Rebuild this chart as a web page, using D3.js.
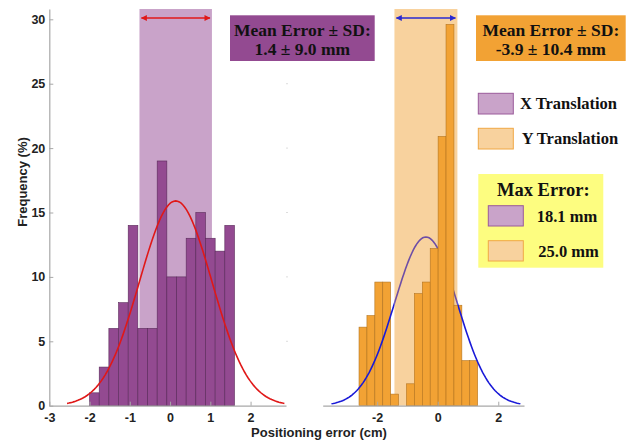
<!DOCTYPE html>
<html>
<head>
<meta charset="utf-8">
<script src="https://cdn.jsdelivr.net/npm/d3@7"></script>
<style>
  body { margin: 0; background: #fff; }
  svg { display: block; }
  .tick text { font-family: "Liberation Sans", Arial, sans-serif; font-weight: bold; font-size: 12.5px; fill: #222; }
  .ann { font-family: "Liberation Serif", "Times New Roman", serif; font-weight: bold; fill: #111; }
</style>
</head>
<body>
<script>
  // X translation histogram (percent per bin)
  const binStartX = -2
  const binWidthX = 0.24
  const freqX = [1, 3, 6, 8, 14, 6, 6, 19, 10, 10, 13, 15, 13, 12, 14]

  // Y translation histogram
  const binStartY = -2.6
  const binWidthY = 0.2613
  const freqY = [6.1, 7.0, 9.6, 9.6, 0.9, 0, 1.7, 8.7, 9.6, 12.2, 20.9, 29.6, 7.8, 3.5, 3.5]

  // normal fits (cm)
  const meanX = 0.14, sdX = 0.90, peakX = 15.9
  const meanY = -0.39, sdY = 1.04, peakY = 13.1

  const ticksLeftX = [-3, -2, -1, 0, 1, 2]
  const ticksRightX = [-2, 0, 2]
  const ticksY = [0, 5, 10, 15, 20, 25, 30]

  const W = 638, H = 441

  const purple = '#934a91'
  const purpleLight = '#c9a3c9'
  const orange = '#f2a234'
  const orangeLight = '#f8d29e'

  const svg = d3.select('body').append('svg').attr('width', W).attr('height', H)
  const defs = svg.append('defs')

  const y = d3.scaleLinear().domain([0, 30.8]).range([405.7, 9])
  const xL = d3.scaleLinear().domain([-3, 2.88]).range([49.3, 286])
  const xR = d3.scaleLinear().domain([-3.8, 2.85]).range([322.7, 524])

  function gauss(m, s, a) {
    const pts = []
    for (let i = 0; i <= 120; i++) {
      const v = m - 3 * s + (6 * s * i) / 120
      pts.push([v, a * Math.exp(-((v - m) ** 2) / (2 * s * s))])
    }
    return pts
  }

  // ---- left panel (X translation) ----
  svg.append('rect')
    .attr('x', xL(meanX - sdX)).attr('width', xL(meanX + sdX) - xL(meanX - sdX))
    .attr('y', y(30.8)).attr('height', y(0) - y(30.8))
    .attr('fill', purpleLight)

  svg.append('g').selectAll('rect').data(freqX).enter().append('rect')
    .attr('x', (d, i) => xL(binStartX + i * binWidthX))
    .attr('width', xL(binWidthX) - xL(0))
    .attr('y', (d) => y(d))
    .attr('height', (d) => y(0) - y(d))
    .attr('fill', purple)
    .attr('stroke', '#5a2a5a')
    .attr('stroke-width', 0.6)

  const lineL = d3.line().x((d) => xL(d[0])).y((d) => y(d[1]))
  svg.append('path').attr('d', lineL(gauss(meanX, sdX, peakX)))
    .attr('fill', 'none').attr('stroke', '#e01818').attr('stroke-width', 1.6)

  // ---- right panel (Y translation) ----
  const lineR = d3.line().x((d) => xR(d[0])).y((d) => y(d[1]))
  const bandL = xR(meanY - sdY), bandR = xR(meanY + sdY)

  svg.append('rect')
    .attr('x', bandL).attr('width', bandR - bandL)
    .attr('y', y(30.8)).attr('height', y(0) - y(30.8))
    .attr('fill', orangeLight)

  const inClip = defs.append('clipPath').attr('id', 'inBand')
  inClip.append('rect').attr('x', bandL).attr('y', 0).attr('width', bandR - bandL).attr('height', H)
  svg.append('path').attr('d', lineR(gauss(meanY, sdY, peakY)))
    .attr('clip-path', 'url(#inBand)')
    .attr('fill', 'none').attr('stroke', '#6e4ea6').attr('stroke-width', 1.6)

  svg.append('g').selectAll('rect').data(freqY).enter().append('rect')
    .attr('x', (d, i) => xR(binStartY + i * binWidthY))
    .attr('width', xR(binWidthY) - xR(0))
    .attr('y', (d) => y(d))
    .attr('height', (d) => y(0) - y(d))
    .attr('fill', orange)
    .attr('stroke', (d) => (d > 0 ? '#b37420' : 'none'))
    .attr('stroke-width', 0.6)

  // blue curve over the bars outside the band
  const outClip = defs.append('clipPath').attr('id', 'outBand')
  outClip.append('rect').attr('x', 0).attr('y', 0).attr('width', bandL).attr('height', H)
  outClip.append('rect').attr('x', bandR).attr('y', 0).attr('width', W).attr('height', H)
  svg.append('path').attr('d', lineR(gauss(meanY, sdY, peakY)))
    .attr('clip-path', 'url(#outBand)')
    .attr('fill', 'none').attr('stroke', '#1a1ad8').attr('stroke-width', 1.6)

  // ---- axes ----
  function styleAxis(g) {
    g.select('.domain').attr('stroke', '#a8a8a8').attr('stroke-width', 1.2)
    g.selectAll('.tick line').attr('stroke', '#a8a8a8')
  }
  const fmt = (d) => String(d)

  svg.append('g').attr('transform', `translate(${xL.range()[0]},0)`)
    .call(d3.axisLeft(y).tickValues(ticksY).tickFormat(fmt).tickSize(-4).tickSizeOuter(0).tickPadding(4))
    .call(styleAxis)

  svg.append('g').attr('transform', `translate(0,${y(0)})`)
    .call(d3.axisBottom(xL).tickValues(ticksLeftX).tickFormat(fmt).tickSize(-4).tickSizeOuter(0).tickPadding(7))
    .call(styleAxis)

  svg.append('g').attr('transform', `translate(0,${y(0)})`)
    .call(d3.axisBottom(xR).tickValues(ticksRightX).tickFormat(fmt).tickSize(-4).tickSizeOuter(0).tickPadding(7))
    .call(styleAxis)

  // faint right-side ticks of the left box
  svg.append('g').selectAll('line').data(ticksY.slice(1, -1)).enter().append('line')
    .attr('x1', 286.5).attr('x2', 287.5)
    .attr('y1', (d) => y(d)).attr('y2', (d) => y(d))
    .attr('stroke', '#bbb')

  svg.append('text')
    .attr('transform', 'translate(27,182) rotate(-90)')
    .attr('text-anchor', 'middle')
    .style('font-family', '"Liberation Sans", Arial, sans-serif')
    .style('font-weight', 'bold').style('font-size', '13px').attr('fill', '#222')
    .text('Frequency (%)')

  svg.append('text')
    .attr('x', 319).attr('y', 437)
    .attr('text-anchor', 'middle')
    .style('font-family', '"Liberation Sans", Arial, sans-serif')
    .style('font-weight', 'bold').style('font-size', '13px').attr('fill', '#222')
    .text('Positioning error (cm)')

  // ---- double arrows over SD bands ----
  function marker(id, color) {
    defs.append('marker').attr('id', id)
      .attr('viewBox', '0 0 10 10').attr('refX', 9).attr('refY', 5)
      .attr('markerWidth', 7).attr('markerHeight', 6)
      .attr('markerUnits', 'userSpaceOnUse')
      .attr('orient', 'auto-start-reverse')
      .append('path').attr('d', 'M0,0 L10,5 L0,10 Z').attr('fill', color)
  }
  marker('arrRed', '#e01818')
  marker('arrBlue', '#2a2ad0')

  svg.append('line')
    .attr('x1', xL(meanX - sdX) + 2).attr('x2', xL(meanX + sdX) - 2)
    .attr('y1', 18).attr('y2', 18)
    .attr('stroke', '#e01818').attr('stroke-width', 1.4)
    .attr('marker-start', 'url(#arrRed)').attr('marker-end', 'url(#arrRed)')

  svg.append('line')
    .attr('x1', bandL + 2).attr('x2', bandR - 2)
    .attr('y1', 18).attr('y2', 18)
    .attr('stroke', '#2a2ad0').attr('stroke-width', 1.4)
    .attr('marker-start', 'url(#arrBlue)').attr('marker-end', 'url(#arrBlue)')

  // ---- annotation boxes ----
  function statBox(x0, x1, fill, lines) {
    svg.append('rect').attr('x', x0).attr('y', 15.3).attr('width', x1 - x0).attr('height', 45.7)
      .attr('fill', fill)
    lines.forEach((t, i) => {
      svg.append('text').attr('class', 'ann')
        .attr('x', (x0 + x1) / 2).attr('y', 35.5 + i * 19.5)
        .attr('text-anchor', 'middle').style('font-size', '17.5px')
        .text(t)
    })
  }
  statBox(230, 374.7, purple, ['Mean Error \u00b1 SD:', '1.4 \u00b1 9.0 mm'])
  statBox(476, 625.7, orange, ['Mean Error \u00b1 SD:', '-3.9 \u00b1 10.4 mm'])

  // legend
  const legend = [
    { label: 'X Translation', fill: purpleLight, stroke: '#9a5a9a', y: 93.3, tx: 520 },
    { label: 'Y Translation', fill: orangeLight, stroke: '#f0a845', y: 128.3, tx: 521.7 }
  ]
  legend.forEach((d) => {
    svg.append('rect').attr('x', 478.3).attr('y', d.y).attr('width', 35).attr('height', 20.7)
      .attr('fill', d.fill).attr('stroke', d.stroke).attr('stroke-width', 1)
    svg.append('text').attr('class', 'ann').attr('x', d.tx).attr('y', d.y + 10.4)
      .attr('dy', '0.35em').style('font-size', '16.5px').text(d.label)
  })

  // max error box
  svg.append('rect').attr('x', 478.3).attr('y', 174).attr('width', 125).attr('height', 93.7)
    .attr('fill', '#fdfd80')
  svg.append('text').attr('class', 'ann').attr('x', 543.3).attr('y', 190)
    .attr('dy', '0.35em').attr('text-anchor', 'middle').style('font-size', '18.5px').text('Max Error:')
  const maxErr = [
    { label: '18.1 mm', fill: purpleLight, stroke: '#9a5a9a', y: 205.7, tx: 536.7 },
    { label: '25.0 mm', fill: orangeLight, stroke: '#f0a845', y: 240.7, tx: 538.3 }
  ]
  maxErr.forEach((d) => {
    svg.append('rect').attr('x', 488.3).attr('y', d.y).attr('width', 35).attr('height', 20.3)
      .attr('fill', d.fill).attr('stroke', d.stroke).attr('stroke-width', 1)
    svg.append('text').attr('class', 'ann').attr('x', d.tx).attr('y', d.y + 10.7)
      .attr('dy', '0.35em').style('font-size', '16.5px').text(d.label)
  })
</script>
</body>
</html>
